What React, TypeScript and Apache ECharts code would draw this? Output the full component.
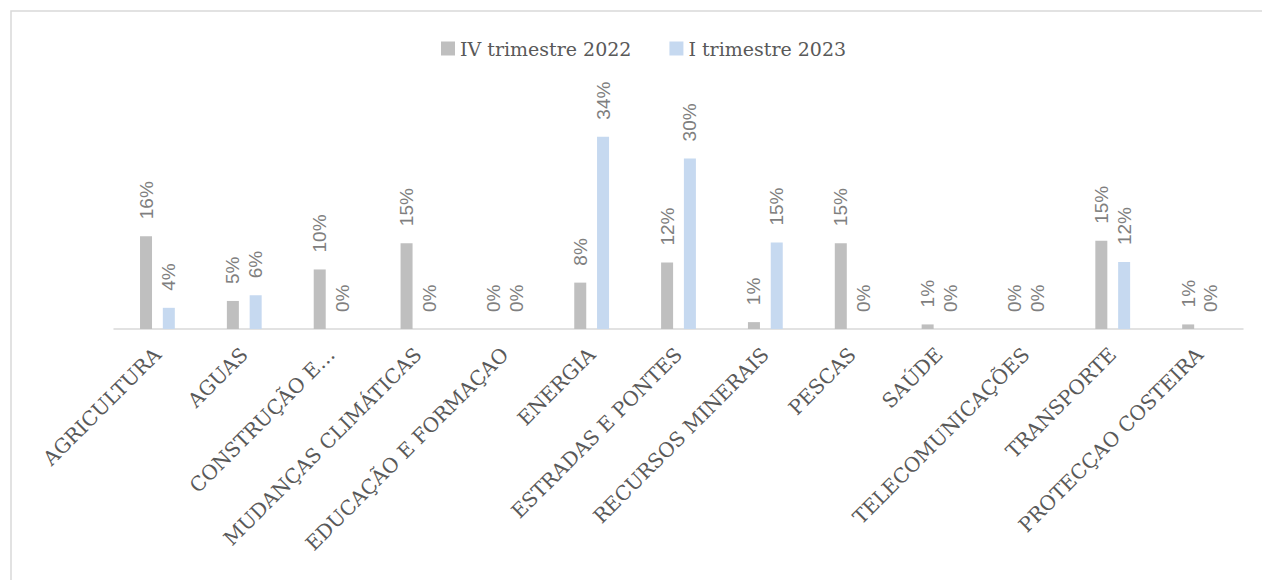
import React, { useEffect, useRef } from "react";
import * as echarts from "echarts";

const categories = [
  "AGRICULTURA",
  "AGUAS",
  "CONSTRUÇÃO E…",
  "MUDANÇAS CLIMÁTICAS",
  "EDUCAÇÃO E FORMAÇAO",
  "ENERGIA",
  "ESTRADAS E PONTES",
  "RECURSOS MINERAIS",
  "PESCAS",
  "SAÚDE",
  "TELECOMUNICAÇÕES",
  "TRANSPORTE",
  "PROTECÇAO COSTEIRA",
];

const seriesNames = ["IV trimestre 2022", "I trimestre 2023"];

const q4_2022 = [16.2, 4.9, 10.4, 15.0, 0, 8.1, 11.6, 1.2, 15.0, 0.8, 0, 15.4, 0.8];
const q1_2023 = [3.7, 5.9, 0, 0, 0, 33.6, 29.8, 15.1, 0, 0, 0, 11.7, 0];

const colors = ["#bfbfbf", "#c6d9f0"];

export default function App() {
  const ref = useRef<HTMLDivElement>(null);

  useEffect(() => {
    document.body.style.margin = "0";
    const chart = echarts.init(ref.current!, null, { renderer: "svg" });
    const label = {
      show: true,
      position: "top",
      rotate: 90,
      align: "left",
      verticalAlign: "middle",
      distance: 17,
      color: "#7f7f7f",
      fontFamily: "Liberation Sans",
      fontSize: 19,
      formatter: (p: any) => Math.round(p.value) + "%",
    };
    chart.setOption({
      animation: false,
      backgroundColor: "#ffffff",
      graphic: [
        {
          type: "rect",
          shape: { x: 11, y: 11, width: 1400, height: 700 },
          style: { fill: "none", stroke: "#d9d9d9", lineWidth: 1.5 },
          silent: true,
        },
      ],
      legend: {
        left: 436,
        top: 34,
        icon: "rect",
        itemWidth: 14,
        itemHeight: 14,
        itemGap: 38,
        textStyle: {
          fontFamily: "DejaVu Serif",
          fontSize: 19,
          color: "#595959",
        },
        data: seriesNames,
      },
      grid: {
        left: 114,
        right: 19,
        top: 100,
        bottom: 251,
        containLabel: false,
      },
      xAxis: {
        type: "category",
        data: categories,
        axisTick: { show: false },
        axisLine: { lineStyle: { color: "#d9d9d9", width: 1.5 } },
        axisLabel: {
          interval: 0,
          rotate: 45,
          margin: 22,
          fontFamily: "DejaVu Serif",
          fontSize: 20,
          color: "#595959",
        },
      },
      yAxis: {
        type: "value",
        min: 0,
        max: 40,
        show: false,
        splitLine: { show: false },
      },
      series: [
        {
          name: seriesNames[0],
          type: "bar",
          data: q4_2022,
          barWidth: 12,
          barGap: "90%",
          itemStyle: { color: colors[0] },
          label,
        },
        {
          name: seriesNames[1],
          type: "bar",
          data: q1_2023,
          barWidth: 12,
          barGap: "90%",
          itemStyle: { color: colors[1] },
          label,
        },
      ],
    });
    return () => chart.dispose();
  }, []);

  return <div ref={ref} style={{ width: 1262, height: 580 }} />;
}
